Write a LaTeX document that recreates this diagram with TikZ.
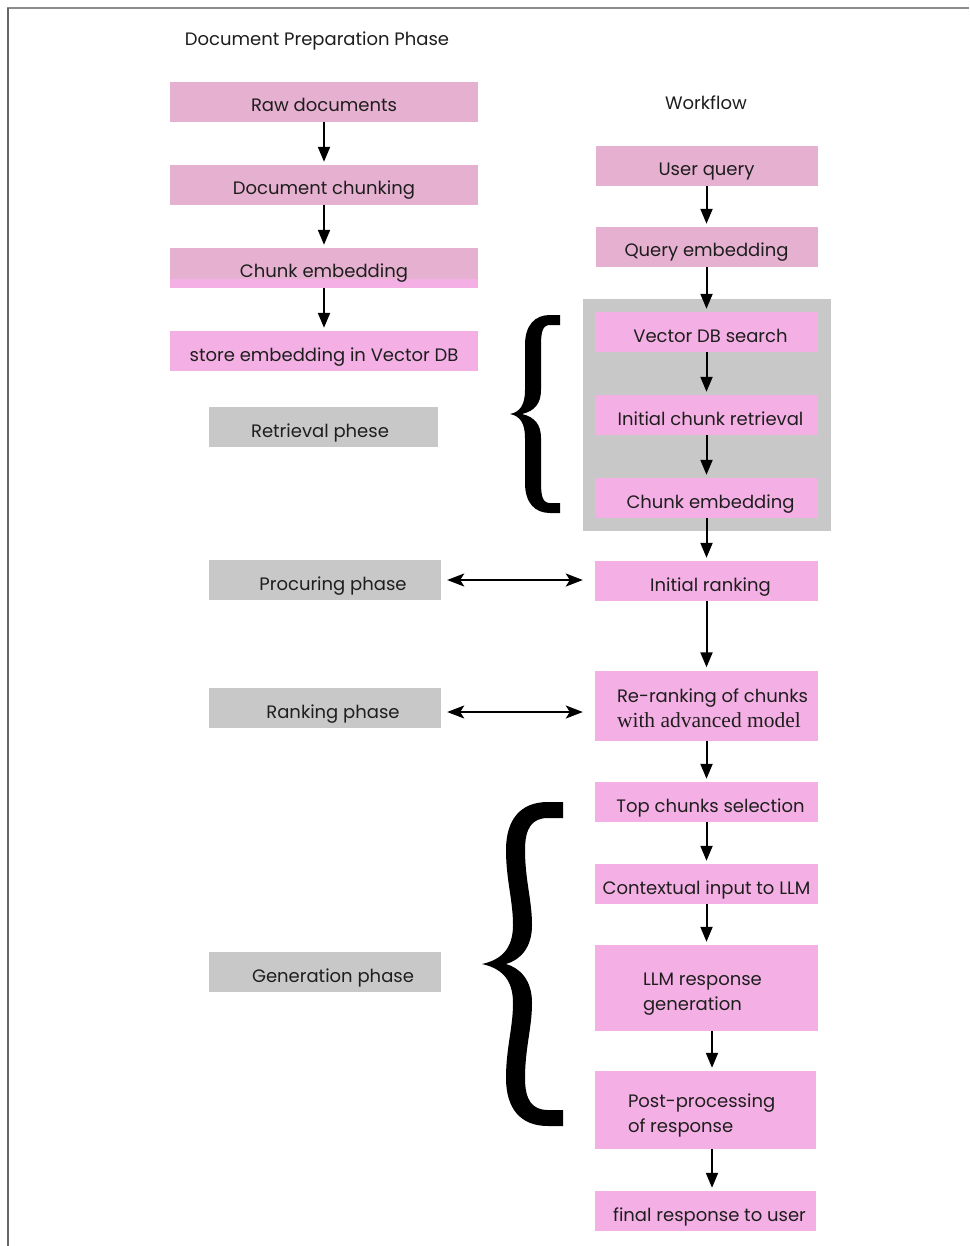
\documentclass[tikz,border=0pt]{standalone}
\usepackage{fontspec}
\setmainfont{Poppins}
\newfontfamily\serifb{Liberation Serif}
\usetikzlibrary{arrows.meta}
\definecolor{pkmuted}{HTML}{E6B0D0}
\definecolor{pkbright}{HTML}{F4B0E4}
\definecolor{phgray}{HTML}{C8C8C8}
\definecolor{txt}{HTML}{1E1E1E}
\newcommand{\twolines}[3]{\raisebox{3pt}[0pt][0pt]{\begin{tabular}[t]{@{}#1@{}}#2\\#3\end{tabular}}}
\begin{document}
\begin{tikzpicture}[x=1pt,y=-1pt,
  base/.style={inner sep=0pt, text=txt, font=\fontsize{18}{25}\selectfont, anchor=center},
  oneline/.style={base, text height=23pt, text depth=3pt},
  mutedbox/.style={oneline, fill=pkmuted, minimum width=308pt, minimum height=40pt},
  brightbox/.style={oneline, fill=pkbright, minimum width=223pt, minimum height=40pt},
  multibox/.style={base, fill=pkbright, minimum width=223pt},
  graybox/.style={oneline, fill=phgray, minimum width=232pt, minimum height=40pt},
  flow/.style={-{Triangle[width=12pt,length=15pt]}, line width=2pt, draw=black, shorten >=3pt},
  twoway/.style={{Stealth[width=13pt,length=17pt,inset=4pt]}-{Stealth[width=13pt,length=17pt,inset=4pt]}, line width=2pt, draw=black},
  bracefill/.style={fill=black, draw=none}
]
\useasboundingbox (0,0) rectangle (969,1246);
\fill[white] (0,0) rectangle (969,1246);
% frame
\draw[line width=2pt, draw=black!45] (7,8) -- (969,8);
\draw[line width=2.5pt, draw=black!60] (8,8) -- (8,1246);

% titles
\node[oneline] (t1) at (317,36) {Document Preparation Phase};
\node[oneline] (t2) at (706,99.5) {Workflow};

% left column
\node[mutedbox] (raw) at (324,102) {Raw documents};
\node[mutedbox] (chunking) at (324,185) {Document chunking};
\fill[pkbright] (170,248) rectangle (478,288);
\fill[pkmuted] (170,248) rectangle (478,279);
\node[oneline, minimum width=308pt, minimum height=40pt] (chunkemb) at (324,268) {Chunk embedding};
\node[mutedbox, fill=pkbright] (store) at (324,351) {store embedding in Vector DB};

\node[graybox, minimum width=229pt] (retrph) at (323.5,427) {Retrieval phese\hspace*{7pt}};
\node[graybox] (procph) at (325,580) {\hspace*{16pt}Procuring phase};
\node[graybox] (rankph) at (325,708) {\hspace*{16pt}Ranking phase};
\node[graybox] (genph) at (325,972) {\hspace*{16pt}Generation phase};

% right column
\node[mutedbox, minimum width=222pt] (userq) at (706.5,166) {User query};
\node[mutedbox, minimum width=222pt] (queryemb) at (706.5,247) {Query embedding};
\node[base, fill=phgray, minimum width=248pt, minimum height=232pt] (retrbox) at (707,415) {};
\node[brightbox] (vdb) at (706.5,332) {\hspace*{8pt}Vector DB search};
\node[brightbox] (icr) at (706.5,415) {\hspace*{8pt}Initial chunk retrieval};
\node[brightbox] (cemb) at (706.5,498) {\hspace*{8pt}Chunk embedding};
\node[brightbox] (irank) at (706.5,581) {\hspace*{8pt}Initial ranking};
\node[multibox, minimum height=70pt] (rerank) at (706.5,705.5)
  {\makebox[223pt][l]{\hspace*{22pt}\twolines{l}{Re-ranking of chunks}{\serifb\fontsize{21.5}{25}\selectfont with advanced model}}};
\node[brightbox] (topc) at (706.5,802) {\hspace*{8pt}Top chunks selection};
\node[brightbox] (ctx) at (706.5,884) {Contextual input to LLM};
\node[multibox, minimum height=86pt] (llm) at (706.5,988)
  {\makebox[223pt][l]{\hspace*{48pt}\twolines{l}{LLM response}{generation}}};
\node[multibox, minimum width=221pt, minimum height=78pt] (post) at (705.5,1110)
  {\makebox[221pt][l]{\hspace*{33pt}\twolines{l}{Post-processing}{of response}}};
\node[brightbox, minimum width=221pt] (final) at (705.5,1211) {\hspace*{8pt}final response to user};

% left arrows
\draw[flow] (raw.south) -- (chunking.north);
\draw[flow] (chunking.south) -- (chunkemb.north);
\draw[flow] (chunkemb.south) -- (store.north);

% right arrows
\draw[flow] (userq.south) -- (queryemb.north);
\draw[flow] (queryemb.south) -- (vdb.north);
\draw[flow] (vdb.south) -- (icr.north);
\draw[flow] (icr.south) -- (cemb.north);
\draw[flow] (cemb.south) -- (irank.north);
\draw[flow] (irank.south) -- (rerank.north);
\draw[flow] (rerank.south) -- (topc.north);
\draw[flow] (topc.south) -- (ctx.north);
\draw[flow] (ctx.south) -- (llm.north);
\draw[flow] ([xshift=5.5pt]llm.south) -- ([xshift=6.5pt]post.north);
\draw[flow] ([xshift=6.5pt]post.south) -- ([xshift=6.5pt]final.north);

% two-way arrows
\draw[twoway, shorten <=6pt, shorten >=12pt] (procph.east) -- (procph.east -| irank.west);
\draw[twoway, shorten <=6pt, shorten >=12pt] ([yshift=-4pt]rankph.east) -- ([yshift=-4pt]rankph.east -| rerank.west);

% small brace
\path[bracefill] (560,315) -- (550,315) .. controls (535,315) and (525,325) .. (525,345)
  -- (525,390) .. controls (525,405) and (520,412) .. (510,414)
  .. controls (520,416) and (525,423) .. (525,438)
  -- (525,483) .. controls (525,503) and (535,513) .. (550,513) -- (560,513)
  -- (560,503) -- (550,503) .. controls (543,503) and (541,497) .. (541,483)
  -- (541,438) .. controls (541,425) and (535,417) .. (522,414)
  .. controls (535,411) and (541,403) .. (541,390)
  -- (541,345) .. controls (541,331) and (543,325) .. (550,325) -- (560,325) -- cycle;

% big brace
\path[bracefill] (563,802) -- (548,802) .. controls (520,802) and (506,820) .. (506,850)
  .. controls (506,880) and (513,900) .. (513,925)
  .. controls (513,950) and (500,960) .. (482,964)
  .. controls (500,968) and (513,978) .. (513,1003)
  .. controls (513,1028) and (506,1048) .. (506,1078)
  .. controls (506,1108) and (520,1126) .. (548,1126) -- (563,1126)
  -- (563,1110) -- (548,1110) .. controls (532,1110) and (525,1100) .. (525,1078)
  .. controls (525,1048) and (532,1028) .. (532,1003)
  .. controls (532,980) and (520,968) .. (506,964)
  .. controls (520,960) and (532,948) .. (532,925)
  .. controls (532,900) and (525,880) .. (525,850)
  .. controls (525,828) and (532,818) .. (548,818) -- (563,818) -- cycle;
\end{tikzpicture}
\end{document}
